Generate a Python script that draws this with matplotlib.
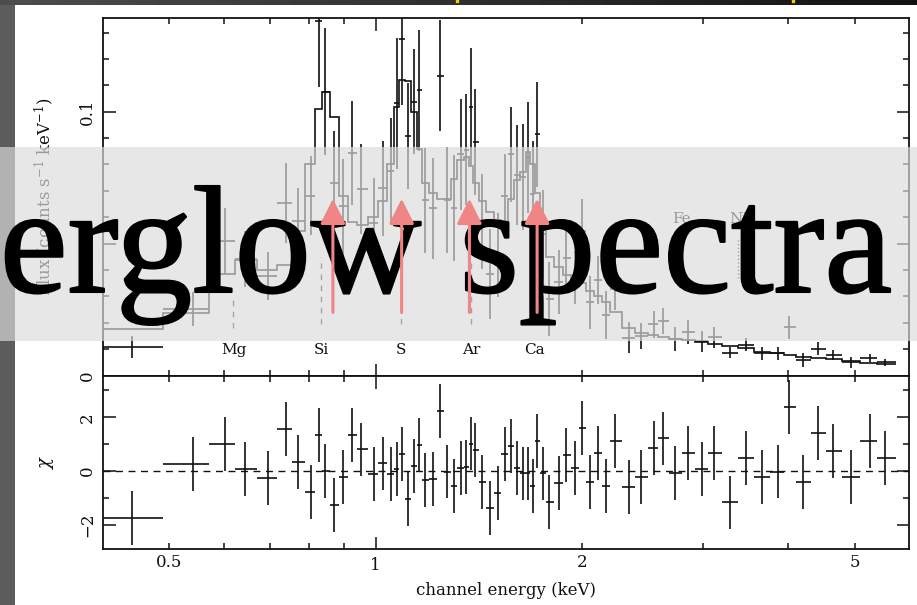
import numpy as np
import matplotlib
matplotlib.use("Agg")
import matplotlib.pyplot as plt
from matplotlib import ticker
from matplotlib import patheffects
from matplotlib.patches import Rectangle, FancyArrowPatch

# bin centres (keV)
energy = [0.441, 0.542, 0.602, 0.645, 0.696, 0.740, 0.771, 0.804, 0.826, 0.843,
          0.870, 0.896, 0.924, 0.953, 0.993, 1.025, 1.051, 1.074, 1.092, 1.114,
          1.136, 1.158, 1.182, 1.212, 1.242, 1.272, 1.300, 1.332, 1.355, 1.378,
          1.398, 1.428, 1.468, 1.506, 1.544, 1.576, 1.606, 1.642, 1.670, 1.694,
          1.722, 1.752, 1.791, 1.852, 1.898, 1.954, 2.002, 2.055, 2.110, 2.166,
          2.234, 2.341, 2.440, 2.546, 2.626, 2.737, 2.855, 2.992, 3.119, 3.291,
          3.472, 3.659, 3.870, 4.013, 4.207, 4.424, 4.651, 4.935, 5.259, 5.531]
# folded model (counts s^-1 keV^-1)
model = [0.0178, 0.0235, 0.0386, 0.0436, 0.0400, 0.0420, 0.0547, 0.0800, 0.1010, 0.1076,
         0.0980, 0.0680, 0.0580, 0.0570, 0.0600, 0.0660, 0.0800, 0.1016, 0.1120, 0.1117,
         0.1000, 0.0860, 0.0730, 0.0690, 0.0670, 0.0670, 0.0746, 0.0818, 0.0827, 0.0795,
         0.0730, 0.0660, 0.0620, 0.0590, 0.0580, 0.0670, 0.0740, 0.0770, 0.0846, 0.0800,
         0.0690, 0.0550, 0.0450, 0.0410, 0.0380, 0.0360, 0.0350, 0.0320, 0.0300, 0.0280,
         0.0240, 0.0180, 0.0160, 0.0152, 0.0145, 0.0140, 0.0135, 0.0128, 0.0118, 0.0110,
         0.0105, 0.0090, 0.0085, 0.0078, 0.0069, 0.0066, 0.0062, 0.0054, 0.0048, 0.0044]
# 1-sigma flux errors
flux_err = [0.0040, 0.0064, 0.0125, 0.0107, 0.0090, 0.0150, 0.0125, 0.0150, 0.0250, 0.0240,
            0.0200, 0.0180, 0.0197, 0.0170, 0.0170, 0.0180, 0.0200, 0.0250, 0.0250, 0.0200,
            0.0200, 0.0230, 0.0200, 0.0190, 0.0210, 0.0200, 0.0200, 0.0210, 0.0210, 0.0220,
            0.0200, 0.0180, 0.0170, 0.0160, 0.0160, 0.0180, 0.0190, 0.0200, 0.0210, 0.0200,
            0.0200, 0.0170, 0.0140, 0.0120, 0.0110, 0.0100, 0.0123, 0.0100, 0.0090, 0.0090,
            0.0080, 0.0060, 0.0050, 0.0050, 0.0050, 0.0045, 0.0045, 0.0040, 0.0040, 0.0020,
            0.0025, 0.0025, 0.0025, 0.0044, 0.0025, 0.0025, 0.0020, 0.0020, 0.0015, 0.0012]
# residuals (data - model) / error
chi = [-1.75, 0.27, 0.99, 0.06, -0.25, 1.56, 0.32, -0.79, 1.33, 0.00,
       -1.26, -0.21, 1.33, 0.80, -0.12, 0.28, -0.12, 0.06, 0.62, -1.05,
       0.19, 0.96, -0.33, -0.30, 2.22, -0.02, -0.56, 0.10, 0.14, 1.02,
       0.78, -0.42, -1.38, -0.83, 0.63, 0.94, 0.10, -0.09, -0.09, -0.56,
       1.12, -0.09, -1.14, -0.46, 0.59, 0.10, 1.60, -0.42, 0.68, -0.56,
       1.12, -0.60, -0.21, 0.84, 1.21, -0.06, 0.68, 0.06, 0.68, -1.17,
       0.49, -0.21, -0.02, 2.38, -0.42, 1.42, 0.75, -0.21, 1.11, 0.49]
first_edge, last_edge = 0.37, 5.75

# redshifted line identifications
line_names = ['Mg', 'Si', 'S', 'Ar', 'Ca']
line_energy = [0.620, 0.832, 1.087, 1.379, 1.703]
line_low = [0.0180, 0.0197, 0.0197, 0.0197, 0.0246]
line_high = [0.0300, 0.0450, 0.0450, 0.0450, 0.0500]
iron_names = ['Fe', 'Ni']
iron_energy = [2.793, 3.38]
arrow_energy = [0.866, 1.091, 1.370, 1.720]

energy = np.array(energy)
model = np.array(model)
flux_err = np.array(flux_err)
chi = np.array(chi)
mids = np.sqrt(energy[:-1] * energy[1:])
edges = np.concatenate([[first_edge], mids, [last_edge]])
xerr = [energy - edges[:-1], edges[1:] - energy]
flux = model + chi * flux_err

plt.rcParams['font.family'] = 'DejaVu Serif'
plt.rcParams['mathtext.fontset'] = 'dejavuserif'

W, H = 917, 605
fig = plt.figure(figsize=(W / 100, H / 100), dpi=100)


def box(x0, y0, x1, y1):
    return [x0 / W, 1 - y1 / H, (x1 - x0) / W, (y1 - y0) / H]


ax = fig.add_axes(box(103, 18, 909, 375.5))
axr = fig.add_axes(box(103, 375.5, 909, 549), sharex=ax)

ink = '#111111'
for a in (ax, axr):
    for s in a.spines.values():
        s.set_linewidth(1.3)
        s.set_color(ink)
    a.tick_params(which='both', direction='in', top=True, right=True,
                  width=1.1, color=ink, labelsize=12, labelcolor=ink)
    a.tick_params(which='major', length=9)
    a.tick_params(which='minor', length=4.5)
    a.tick_params(axis='y', labelrotation=90, pad=5)
    a.tick_params(axis='x', pad=6)

ax.set_xscale('log')
ax.set_xlim(0.4, 6.0)
axr.xaxis.set_major_locator(ticker.FixedLocator([1]))
axr.xaxis.set_minor_locator(ticker.FixedLocator([0.5, 0.6, 0.7, 0.8, 0.9, 2, 3, 4, 5]))
axr.xaxis.set_major_formatter(ticker.FuncFormatter(lambda v, p: '%g' % v))
axr.xaxis.set_minor_formatter(ticker.FuncFormatter(
    lambda v, p: '%g' % v if round(v, 3) in (0.5, 2, 5) else ''))
ax.tick_params(which='both', labelbottom=False)

ax.set_ylim(0, 0.1355)
ax.yaxis.set_major_locator(ticker.FixedLocator([0, 0.05, 0.1]))
ax.yaxis.set_minor_locator(ticker.MultipleLocator(0.01))
ax.yaxis.set_major_formatter(ticker.FuncFormatter(lambda v, p: '%g' % v))
for lab in ax.get_yticklabels():
    lab.set_va('center')

axr.set_ylim(-2.9, 3.55)
axr.yaxis.set_major_locator(ticker.FixedLocator([-2, 0, 2]))
axr.yaxis.set_minor_locator(ticker.FixedLocator([-1, 1, 3]))
for lab in axr.get_yticklabels():
    lab.set_va('center')

# spectrum and model
ax.errorbar(energy, flux, xerr=xerr, yerr=flux_err, fmt='none',
            ecolor=ink, elinewidth=1.2, capsize=0)
ax.stairs(model, edges, baseline=None, color=ink, lw=1.2)

ax.vlines(line_energy, line_low, line_high, colors='#333333',
          linestyles=(0, (4, 4)), lw=1)
for name, e in zip(line_names, line_energy):
    ax.text(e, 0.0095, name, ha='center', va='center', fontsize=11, color=ink)
ax.vlines(iron_energy, 0.037, 0.052, colors='#333333', linestyles=':', lw=1)
for name, e in zip(iron_names, iron_energy):
    ax.text(e, 0.0595, name, ha='center', va='center', fontsize=11, color=ink)

# residuals
axr.errorbar(energy, chi, xerr=xerr, yerr=1, fmt='none',
             ecolor=ink, elinewidth=1.2, capsize=0)
axr.axhline(0, color=ink, lw=1, ls=(0, (5, 4)))

ax.set_ylabel('Flux (counts s$^{-1}$ keV$^{-1}$)', fontsize=12, color=ink)
ax.yaxis.set_label_coords(-0.058, 0.5)
axr.set_ylabel(r'$\chi$', fontsize=13, color=ink)
axr.yaxis.set_label_coords(-0.058, 0.5)
axr.set_xlabel('channel energy (keV)', fontsize=12, color=ink)
axr.xaxis.set_label_coords(0.5, -0.19)

# slide frame
bar = fig.add_axes([0, 1 - 5 / H, 1, 5 / H], zorder=2)
bar.imshow(np.linspace(0.30, 0.07, 200)[None, :], cmap='gray', vmin=0, vmax=1,
           aspect='auto', extent=(0, W, 5, 0))
bar.plot([457, 793], [1, 1], 's', ms=2, color='#e8d200')
bar.set_xlim(0, W)
bar.set_ylim(5, 0)
bar.axis('off')
fig.add_artist(Rectangle((0, 0), 15 / W, 1 - 5 / H, transform=fig.transFigure,
                         fc='#5c5c5c', lw=0, zorder=2))

# title banner
fig.add_artist(Rectangle((0, 1 - 341 / H), 1, 194 / H, transform=fig.transFigure,
                         fc='#dcdcdc', alpha=0.68, lw=0, zorder=3))
title = fig.text(892 / W, 1 - 292 / H, 'Afterglow spectra', fontsize=110,
                 family='Liberation Serif', ha='right', va='baseline',
                 color='black', zorder=4)
title.set_path_effects([patheffects.withStroke(linewidth=1.5, foreground='black')])

for e in arrow_energy:
    fig.add_artist(FancyArrowPatch((e, 0.0239), (e, 0.067), transform=ax.transData,
                                   arrowstyle='-|>,head_length=1.1,head_width=0.55',
                                   mutation_scale=14, color='#f08585', lw=2.2,
                                   shrinkA=0, shrinkB=0, zorder=5))

fig.savefig('out.png', dpi=100)
